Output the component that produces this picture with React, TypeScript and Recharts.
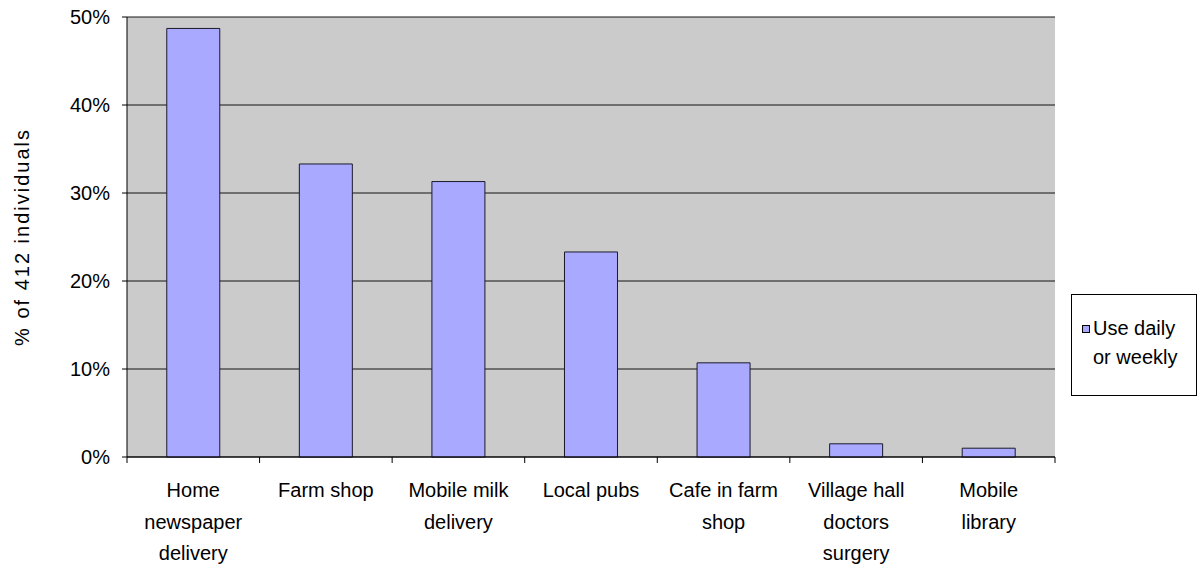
import { BarChart, Bar, XAxis, YAxis, CartesianGrid, Legend, Label } from "recharts";

// services used (percent of 412 individuals)
const categories = [
  "Home\nnewspaper\ndelivery",
  "Farm shop",
  "Mobile milk\ndelivery",
  "Local pubs",
  "Cafe in farm\nshop",
  "Village hall\ndoctors\nsurgery",
  "Mobile\nlibrary",
];
const useDailyOrWeekly = [48.7, 33.3, 31.3, 23.3, 10.7, 1.5, 1.0];
const yTicks = [0, 10, 20, 30, 40, 50];
const seriesName = "Use daily\nor weekly";
const yTitle = "% of 412 individuals";

const data = categories.map((c, i) => ({ name: c, value: useDailyOrWeekly[i] }));

const W = 1204;
const H = 568;
const PLOT_LEFT = 127;
const PLOT_RIGHT = 1055;
const FONT = "'Liberation Sans', Arial, sans-serif";
const BAND = (PLOT_RIGHT - PLOT_LEFT) / categories.length;

function CategoryTick(props: any) {
  const { x, y, payload, index } = props;
  const lines = String(payload.value).split("\n");
  const left = x - BAND / 2;
  return (
    <g>
      <line x1={left} y1={y} x2={left} y2={y + 6} stroke="#000" />
      {index === categories.length - 1 && (
        <line x1={left + BAND} y1={y} x2={left + BAND} y2={y + 6} stroke="#000" />
      )}
      <text x={x} y={y + 40} textAnchor="middle" fontSize={20} fontFamily={FONT} fill="#000">
        {lines.map((l, i) => (
          <tspan key={i} x={x} dy={i === 0 ? 0 : 31.5}>
            {l}
          </tspan>
        ))}
      </text>
    </g>
  );
}

function LegendBox() {
  const lines = seriesName.split("\n");
  return (
    <div
      style={{
        position: "relative",
        width: 126,
        height: 102,
        boxSizing: "border-box",
        border: "1px solid #000",
        background: "#fff",
        fontFamily: FONT,
        fontSize: 20,
        color: "#000",
      }}
    >
      <div
        style={{
          position: "absolute",
          left: 10,
          top: 30,
          width: 8,
          height: 8,
          boxSizing: "border-box",
          border: "1px solid #000",
          background: "#A9A9FF",
        }}
      />
      <div style={{ position: "absolute", left: 21, top: 19, lineHeight: "29px", whiteSpace: "nowrap" }}>
        {lines.map((l, i) => (
          <div key={i}>{l}</div>
        ))}
      </div>
    </div>
  );
}

export default function App() {
  return (
    <div style={{ position: "absolute", left: 0, top: 0, width: W, height: H, background: "#fff" }}>
      <BarChart
        width={W}
        height={H}
        data={data}
        margin={{ top: 17, right: W - PLOT_RIGHT, bottom: 0, left: 0 }}
        barCategoryGap="30%"
      >
        <CartesianGrid vertical={false} stroke="#000" fill="#CBCBCB" strokeOpacity={0.9} />
        <XAxis
          dataKey="name"
          height={H - 457}
          interval={0}
          tickLine={false}
          tickSize={0}
          tickMargin={0}
          axisLine={{ stroke: "#000" }}
          tick={<CategoryTick />}
        />
        <YAxis
          width={PLOT_LEFT}
          domain={[0, 50]}
          ticks={yTicks}
          tickFormatter={(v: number) => `${v}%`}
          tickSize={5}
          tickMargin={12}
          axisLine={{ stroke: "#000" }}
          tickLine={{ stroke: "#000" }}
          tick={{ fill: "#000", fontSize: 20, fontFamily: FONT }}
        >
          <Label
            value={yTitle}
            angle={-90}
            position="insideLeft"
            dx={17}
            style={{ fontSize: 20, letterSpacing: 2, fontFamily: FONT, fill: "#000", textAnchor: "middle" }}
          />
        </YAxis>
        <Legend
          layout="vertical"
          align="center"
          verticalAlign="middle"
          wrapperStyle={{ left: 1071, top: 294, width: 126 }}
          content={<LegendBox />}
        />
        <Bar
          dataKey="value"
          name="Use daily or weekly"
          fill="#A9A9FF"
          stroke="#1a1a2a"
          strokeWidth={1}
          isAnimationActive={false}
        />
      </BarChart>
    </div>
  );
}
